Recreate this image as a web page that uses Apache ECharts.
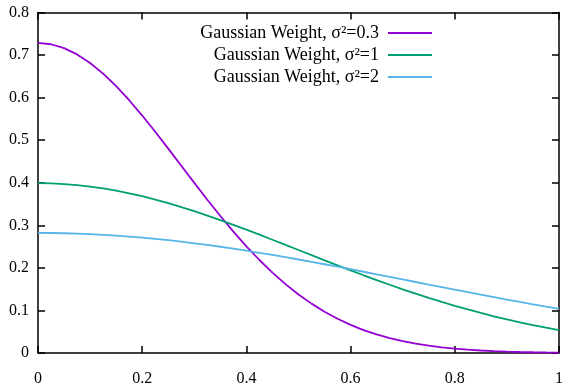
<!DOCTYPE html>
<html><head><meta charset="utf-8">
<script src="https://cdn.jsdelivr.net/npm/echarts@6/dist/echarts.min.js"></script>
<style>html,body{margin:0;padding:0;background:#fff}#c{width:566px;height:384px}</style>
</head><body><div id="c"></div>
<script>
var xs = [0,0.025,0.05,0.075,0.1,0.125,0.15,0.175,0.2,0.225,0.25,0.275,0.3,0.325,0.35,0.375,0.4,0.425,0.45,0.475,0.5,0.525,0.55,0.575,0.6,0.625,0.65,0.675,0.7,0.725,0.75,0.775,0.8,0.825,0.85,0.875,0.9,0.925,0.95,0.975,1.0];
var w03 = [0.7284,0.7254,0.7164,0.7016,0.6814,0.6563,0.6269,0.5939,0.5579,0.5198,0.4802,0.4400,0.3998,0.3602,0.3219,0.2852,0.2507,0.2185,0.1888,0.1619,0.1376,0.1160,0.0969,0.0804,0.0661,0.0539,0.0436,0.0349,0.0278,0.0219,0.0171,0.0133,0.0102,0.0078,0.0059,0.0044,0.0033,0.0024,0.0018,0.0013,0.0009];
var w1 = [0.3989,0.3984,0.3969,0.3944,0.3910,0.3866,0.3814,0.3752,0.3683,0.3605,0.3520,0.3429,0.3332,0.3229,0.3122,0.3011,0.2897,0.2780,0.2661,0.2540,0.2420,0.2299,0.2178,0.2059,0.1942,0.1826,0.1714,0.1604,0.1497,0.1394,0.1295,0.1200,0.1109,0.1023,0.0940,0.0863,0.0789,0.0721,0.0656,0.0596,0.0540];
var w2 = [0.2821,0.2819,0.2814,0.2805,0.2793,0.2777,0.2758,0.2736,0.2710,0.2682,0.2650,0.2616,0.2578,0.2538,0.2496,0.2451,0.2404,0.2355,0.2304,0.2251,0.2197,0.2141,0.2085,0.2027,0.1968,0.1909,0.1849,0.1789,0.1728,0.1668,0.1607,0.1547,0.1487,0.1428,0.1370,0.1312,0.1255,0.1199,0.1144,0.1090,0.1038];
var names = ['Gaussian Weight, σ²=0.3','Gaussian Weight, σ²=1','Gaussian Weight, σ²=2'];
var colors = ['#9400d3','#009e73','#56b4e9'];

function pairs(v){ return xs.map(function(x,i){return [x,v[i]];}); }
var font = 'Liberation Serif';
var axLine = {show:true, onZero:false, lineStyle:{color:'#000', width:1.5}};
var tick = {show:true, inside:true, length:7, lineStyle:{color:'#000', width:1.5}};
var fmt = function(v){return String(+v.toFixed(1));};
var chart = echarts.init(document.getElementById('c'));
chart.setOption({
  animation:false,
  color: colors,
  grid:{left:38, right:7, top:12.5, bottom:31, containLabel:false, outerBoundsMode:'none'},
  legend:{
    orient:'vertical', align:'right', right:129, top:19,
    itemWidth:44, itemHeight:2, itemGap:4,
    icon:'rect',
    textStyle:{fontFamily:font, fontSize:18, color:'#000', lineHeight:17, padding:[0,4,0,0]},
    data: names.map(function(n,i){return {name:n, itemStyle:{color:colors[i]}};})
  },
  xAxis:[
    {type:'value', min:0, max:1, interval:0.2, position:'bottom',
     axisLine:axLine, axisTick:tick, splitLine:{show:false},
     axisLabel:{fontFamily:font, fontSize:16, color:'#000', margin:18, formatter:fmt}},
    {type:'value', min:0, max:1, interval:0.2, position:'top',
     axisLine:axLine, axisTick:tick, splitLine:{show:false}, axisLabel:{show:false}}
  ],
  yAxis:[
    {type:'value', min:0, max:0.8, interval:0.1, position:'left',
     axisLine:axLine, axisTick:tick, splitLine:{show:false},
     axisLabel:{fontFamily:font, fontSize:16, color:'#000', margin:9, formatter:fmt}},
    {type:'value', min:0, max:0.8, interval:0.1, position:'right',
     axisLine:axLine, axisTick:tick, splitLine:{show:false}, axisLabel:{show:false}}
  ],
  series:[w03,w1,w2].map(function(v,i){
    return {name:names[i], type:'line', data:pairs(v), smooth:false, showSymbol:false,
      lineStyle:{width:1.8, color:colors[i]}, itemStyle:{color:colors[i]}};
  })
});
</script></body></html>
